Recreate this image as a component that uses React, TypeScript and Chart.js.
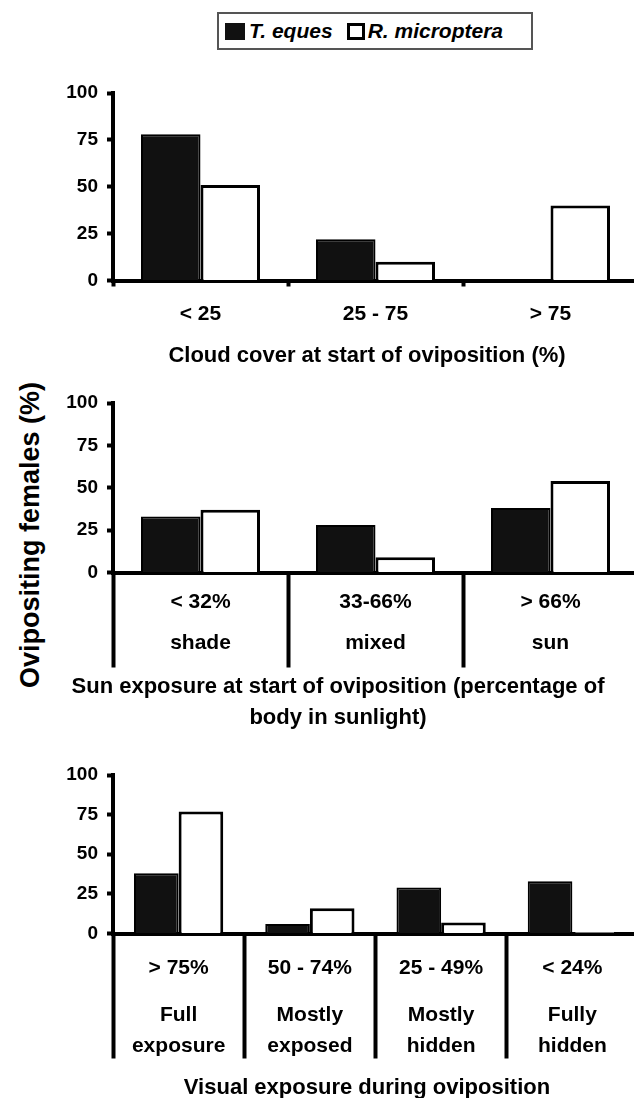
import React, { useEffect, useRef } from "react";
import { Chart, registerables } from "chart.js";
Chart.register(...registerables);

const FONT = "'Liberation Sans', Arial, Helvetica, sans-serif";

const seriesNames = ["T. eques", "R. microptera"];
const yTickStep = 25;
const yMax = 100;

const cloudLabels = [["< 25"], ["25 - 75"], ["> 75"]];
const cloudTEques = [78, 22, 0];
const cloudRMicro = [51, 10, 40];
const cloudTitle = ["Cloud cover at start of oviposition (%)"];

const sunLabels = [
  ["< 32%", "", "shade"],
  ["33-66%", "", "mixed"],
  ["> 66%", "", "sun"],
];
const sunTEques = [33, 28, 38];
const sunRMicro = [37, 9, 54];
const sunTitle = ["Sun exposure at start of oviposition (percentage of", "body in sunlight)"];

const visLabels = [
  ["> 75%", "", "", "Full", "", "exposure"],
  ["50 - 74%", "", "", "Mostly", "", "exposed"],
  ["25 - 49%", "", "", "Mostly", "", "hidden"],
  ["< 24%", "", "", "Fully", "", "hidden"],
];
const visTEques = [38, 6, 29, 33];
const visRMicro = [77, 16, 7, 1];
const visTitle = ["Visual exposure during oviposition"];

const yAxisTitle = "Ovipositing females (%)";

type PanelCfg = {
  labels: string[][];
  a: number[];
  b: number[];
  title: string[];
  canvasTop: number;
  padTop: number;
  plotH: number;
  padLeft: number;
  rightW: number;
  canvasW: number;
  tickLen: number;
  labelPad: number;
  labelLH: number;
  xH: number;
  titlePadTop: number;
  titleLH: number;
};

const AXIS_X = 113;
const PLOT_RIGHT = 638;
const LABEL_SIZE = 21;
const TITLE_SIZE = 22;

const panels: PanelCfg[] = [
  {
    labels: cloudLabels, a: cloudTEques, b: cloudRMicro, title: cloudTitle,
    canvasTop: 60, padTop: 33, plotH: 187, padLeft: 40, rightW: 56, canvasW: 694,
    tickLen: 6, labelPad: 15, labelLH: 25, xH: 50, titlePadTop: 12.5, titleLH: 25,
  },
  {
    labels: sunLabels, a: sunTEques, b: sunRMicro, title: sunTitle,
    canvasTop: 378, padTop: 25, plotH: 169, padLeft: 26, rightW: 12, canvasW: 650,
    tickLen: 95, labelPad: -75.25, labelLH: 20.5, xH: 95, titlePadTop: 3.5, titleLH: 31,
  },
  {
    labels: visLabels, a: visTEques, b: visRMicro, title: visTitle,
    canvasTop: 750, padTop: 25, plotH: 158, padLeft: 40, rightW: 56, canvasW: 694,
    tickLen: 125, labelPad: -97.75, labelLH: 15.5, xH: 130, titlePadTop: 11.5, titleLH: 25,
  },
];

function Panel({ cfg }: { cfg: PanelCfg }) {
  const ref = useRef<HTMLCanvasElement>(null);
  const titleH = cfg.titlePadTop + cfg.title.length * cfg.titleLH + 2;
  const H = Math.ceil(cfg.padTop + cfg.plotH + cfg.xH + titleH);
  useEffect(() => {
    if (!ref.current) return;
    const chart = new Chart(ref.current, {
      type: "bar",
      data: {
        labels: cfg.labels,
        datasets: [
          { label: seriesNames[0], data: cfg.a, backgroundColor: "#111111", borderColor: "#000000", borderWidth: 2 },
          { label: seriesNames[1], data: cfg.b, backgroundColor: "#ffffff", borderColor: "#000000", borderWidth: 3 },
        ],
      },
      options: {
        responsive: false,
        animation: false,
        devicePixelRatio: 1,
        layout: { padding: { top: cfg.padTop, left: cfg.padLeft, right: 0, bottom: 0 } },
        datasets: { bar: { barPercentage: 1, categoryPercentage: 0.68 } },
        plugins: {
          legend: { display: false },
          tooltip: { enabled: false },
          title: {
            display: true,
            position: "bottom",
            text: cfg.title,
            color: "#000",
            font: { family: FONT, size: TITLE_SIZE, weight: "bold", lineHeight: cfg.titleLH / TITLE_SIZE },
            padding: { top: cfg.titlePadTop, bottom: 2 },
          },
        },
        scales: {
          x: {
            type: "category",
            offset: true,
            border: { display: true, width: 4, color: "#000" },
            grid: {
              display: true,
              offset: true,
              drawOnChartArea: false,
              drawTicks: true,
              tickLength: cfg.tickLen,
              tickWidth: 4,
              tickColor: "#000",
              color: "#000",
            },
            ticks: {
              autoSkip: false,
              maxRotation: 0,
              minRotation: 0,
              color: "#000",
              padding: cfg.labelPad,
              font: { family: FONT, size: LABEL_SIZE, weight: "bold", lineHeight: cfg.labelLH / LABEL_SIZE },
            },
            afterFit: (s: any) => { s.height = cfg.xH; },
          },
          y: {
            type: "linear",
            position: "left",
            min: 0,
            max: yMax,
            border: { display: true, width: 4, color: "#000" },
            grid: {
              display: true,
              drawOnChartArea: false,
              drawTicks: true,
              tickLength: 6,
              tickWidth: 4,
              tickColor: "#000",
              color: "#000",
            },
            ticks: {
              stepSize: yTickStep,
              color: "#000",
              padding: 9,
              font: { family: FONT, size: 19, weight: "bold" },
            },
            afterFit: (s: any) => { s.width = AXIS_X - cfg.padLeft; },
          },
          spacer: {
            type: "linear",
            position: "right",
            display: true,
            min: 0,
            max: yMax,
            border: { display: false },
            grid: { display: false },
            ticks: { display: false },
            afterFit: (s: any) => { s.width = cfg.rightW; },
          },
        },
      } as any,
    });
    return () => chart.destroy();
  }, []);
  return (
    <canvas
      ref={ref}
      width={cfg.canvasW}
      height={H}
      style={{ position: "absolute", left: 0, top: cfg.canvasTop, width: cfg.canvasW, height: H }}
    />
  );
}

export default function App() {
  return (
    <div
      style={{
        position: "absolute", left: 0, top: 0, width: 634, height: 1098,
        overflow: "hidden", background: "#fff", fontFamily: FONT,
      }}
    >
      <div
        style={{
          position: "absolute", left: 217, top: 12, width: 316, height: 38,
          boxSizing: "border-box", border: "2px solid #555", display: "flex",
          alignItems: "center", paddingLeft: 6, fontWeight: "bold", fontStyle: "italic",
          fontSize: 21, color: "#000", whiteSpace: "nowrap",
        }}
      >
        <span style={{ display: "inline-block", width: 20, height: 17, background: "#111", marginRight: 4 }} />
        <span style={{ marginRight: 14 }}>{seriesNames[0]}</span>
        <span
          style={{
            display: "inline-block", width: 18, height: 17, boxSizing: "border-box",
            border: "3px solid #000", background: "#fff", marginRight: 3,
          }}
        />
        <span>{seriesNames[1]}</span>
      </div>
      <div
        style={{
          position: "absolute", left: 30, top: 535, transform: "translate(-50%, -50%) rotate(-90deg)",
          whiteSpace: "nowrap", fontWeight: "bold", fontSize: 27, color: "#000",
        }}
      >
        {yAxisTitle}
      </div>
      {panels.map((p, i) => (
        <Panel key={i} cfg={p} />
      ))}
    </div>
  );
}
